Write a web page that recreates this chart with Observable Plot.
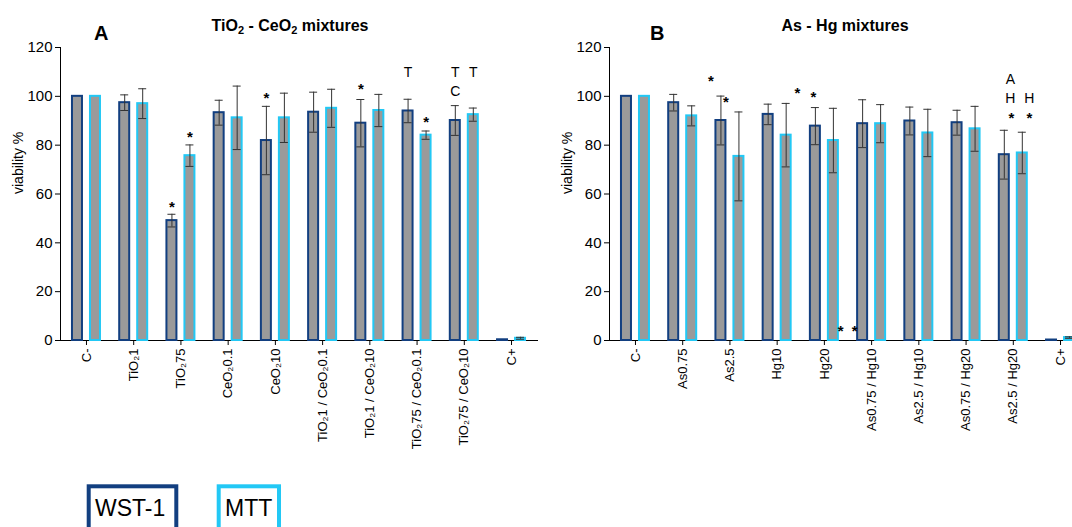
<!DOCTYPE html>
<html>
<head>
<meta charset="utf-8">
<script src="https://cdn.jsdelivr.net/npm/d3@7"></script>
<script src="https://cdn.jsdelivr.net/npm/@observablehq/plot@0.6"></script>
<style>
  html, body { margin: 0; padding: 0; background: #fff; }
  body { font-family: "Liberation Sans", Arial, Helvetica, sans-serif; }
  #wrap { position: relative; width: 1072px; height: 527px; overflow: hidden; background: #fff; }
  .panel { position: absolute; top: 0; }
  .panel svg { max-width: none !important; }
  .panel svg g[aria-label^="y-axis"] text { font-size: 15px; }
  #overlay { position: absolute; left: 0; top: 0; pointer-events: none; }
</style>
</head>
<body>
<div id="wrap">
  <div id="panelA" class="panel" style="left:0px;width:545px"></div>
  <div id="panelB" class="panel" style="left:540px;width:560px"></div>
  <svg id="overlay" width="1072" height="527" font-family="Liberation Sans, Arial, sans-serif">
    <text x="94" y="40" font-size="20" font-weight="bold">A</text>
    <text x="290" y="31" font-size="16" font-weight="bold" text-anchor="middle">TiO<tspan font-size="11" dy="3">2</tspan><tspan dy="-3"> - CeO</tspan><tspan font-size="11" dy="3">2</tspan><tspan dy="-3"> mixtures</tspan></text>
    <text x="650" y="40" font-size="20" font-weight="bold">B</text>
    <text x="845" y="31" font-size="16" font-weight="bold" text-anchor="middle">As - Hg mixtures</text>
    <rect x="88.7" y="486.3" width="87.6" height="50" fill="#fff" stroke="#123f80" stroke-width="4"></rect>
    <text x="95" y="516" font-size="23">WST-1</text>
    <rect x="218.7" y="486.3" width="60.3" height="50" fill="#fff" stroke="#22c8f5" stroke-width="4"></rect>
    <text x="225" y="516" font-size="23">MTT</text>
  </svg>
</div>
<script>
// ---------- Data ----------
const catsA = ["C-", "TiO₂1", "TiO₂75", "CeO₂0.1", "CeO₂10", "TiO₂1 / CeO₂0.1", "TiO₂1 / CeO₂10", "TiO₂75 / CeO₂0.1", "TiO₂75 / CeO₂10", "C+"];
const wstA    = [100, 97.4, 49.1, 93.3, 81.9, 93.5, 89.0, 94.0, 90.1, 0.3];
const wstErrA = [0,   3.2,  2.6,  5.1,  14.0, 8.2,  9.7,  4.8,  6.1,  0];
const mttA    = [100, 97.0, 75.7, 91.2, 91.2, 95.1, 94.2, 84.1, 92.5, 0.9];
const mttErrA = [0,   6.1,  4.4,  13.0, 10.1, 7.8,  6.6,  1.7,  2.7,  0.4];

const catsB = ["C-", "As0.75", "As2.5", "Hg10", "Hg20", "As0.75 / Hg10", "As2.5 / Hg10", "As0.75 / Hg20", "As2.5 / Hg20", "C+"];
const wstB    = [100, 97.4, 90.1, 92.6, 87.8, 88.8, 89.9, 89.2, 76.1, 0.2];
const wstErrB = [0,   3.4,  10.0, 4.2,  7.6,  9.8,  5.7,  5.1,  10.0, 0];
const mttB    = [100, 92.0, 75.4, 84.1, 81.9, 88.8, 85.0, 86.7, 76.8, 1.2];
const mttErrB = [0,   4.1,  18.2, 13.0, 13.2, 7.8,  9.7,  9.2,  8.5,  0.3];

const yTicks = [0, 20, 40, 60, 80, 100, 120];

// significance annotations: category, series, value level, label
const annCatA    = ["TiO₂75", "TiO₂75", "CeO₂10", "TiO₂1 / CeO₂10", "TiO₂75 / CeO₂0.1", "TiO₂75 / CeO₂0.1", "TiO₂75 / CeO₂10", "TiO₂75 / CeO₂10", "TiO₂75 / CeO₂10"];
const annSerA    = ["WST", "MTT", "WST", "WST", "WST", "MTT", "WST", "WST", "MTT"];
const annPosA    = [56.3, 85.1, 100.8, 104.5, 109.8, 91.2, 109.8, 102.2, 109.8];
const annLabelA  = ["*", "*", "*", "*", "T", "*", "T", "C", "T"];

const annCatB    = ["As2.5", "As2.5", "Hg20", "Hg20", "As0.75 / Hg10", "As0.75 / Hg10", "As2.5 / Hg20", "As2.5 / Hg20", "As2.5 / Hg20", "As2.5 / Hg20", "As2.5 / Hg20"];
const annSerB    = ["WST", "MTT", "WST", "MTT", "WST", "MTT", "WST", "WST", "WST", "MTT", "MTT"];
const annPosB    = [107.7, 99.2, 102.9, 101.1, 5.3, 5.3, 107.0, 99.2, 92.6, 99.2, 92.6];
const annLabelB  = ["*", "*", "*", "*", "*", "*", "A", "H", "*", "H", "*"];
// label nudges (styling, px) as drawn in the original figure
const annNudgeA = annLabelA.map(() => 0);
const annNudgeB = [-10, -13, -18, -20, -22, -26, 6, 6, 7, 7, 7];

// ---------- Styling ----------
const NAVY = "#123f80";
const CYAN = "#22c8f5";
const GRAY = "#9a9a9a";
const ERR  = "#333";
const FONT = "Liberation Sans, Arial, Helvetica, sans-serif";

function makePanel(cats, wst, wstErr, mtt, mttErr, annCat, annSer, annPos, annLabel, annNudge, opts) {
  const {width, marginLeft, marginRight} = opts;
  const height = 460, marginTop = 47, marginBottom = 120;
  const po = 0.05;
  const step = (width - marginLeft - marginRight) / (cats.length + 2 * po);
  const bw = step;
  const half = bw / 2;

  const rows = cats.map((c, i) => ({cat: c, wst: wst[i], wstErr: wstErr[i], mtt: mtt[i], mttErr: mttErr[i]}));
  const errW = rows.filter(d => d.wstErr > 0);
  const errM = rows.filter(d => d.mttErr > 0);

  const ann = annCat.map((c, i) => ({cat: c, ser: annSer[i], pos: annPos[i], label: annLabel[i],
    dx: (annSer[i] === "WST" ? -9 : 9) + annNudge[i]}));
  const annMarks = [];
  const groups = d3.group(ann, d => d.dx, d => d.label === "*");
  for (const [dx, inner] of groups) {
    for (const [isStar, arr] of inner) {
      annMarks.push(Plot.text(arr, {x: "cat", y: "pos", text: "label", dx, dy: isStar ? 4 : 0.5,
        fontSize: isStar ? 15 : 14, fontWeight: isStar ? "bold" : "normal", fill: "#000", lineAnchor: "middle"}));
    }
  }

  return Plot.plot({
    width, height, marginLeft, marginRight, marginTop, marginBottom,
    style: {fontFamily: FONT, fontSize: "13px", color: "#000", background: "transparent", overflow: "visible"},
    x: {domain: cats, paddingInner: 0, paddingOuter: po, round: false, label: null,
        tickRotate: -90, tickSize: 5, tickPadding: 3, line: true},
    y: {domain: [0, 120], ticks: yTicks.length - 1, label: null, tickSize: 5, tickPadding: 3, line: true},
    marks: [
      Plot.barY(rows, {x: "cat", y: "wst", fill: GRAY, stroke: NAVY, strokeWidth: 2,
        insetLeft: half - 14, insetRight: half + 4}),
      Plot.barY(rows, {x: "cat", y: "mtt", fill: GRAY, stroke: CYAN, strokeWidth: 2,
        insetLeft: half + 4, insetRight: half - 14}),
      Plot.ruleX(errW, {x: "cat", y1: d => d.wst - d.wstErr, y2: d => d.wst + d.wstErr, dx: -9, stroke: ERR, strokeWidth: 1}),
      Plot.tickY(errW, {x: "cat", y: d => d.wst + d.wstErr, insetLeft: half - 13, insetRight: half + 5, stroke: ERR, strokeWidth: 1}),
      Plot.tickY(errW, {x: "cat", y: d => d.wst - d.wstErr, insetLeft: half - 13, insetRight: half + 5, stroke: ERR, strokeWidth: 1}),
      Plot.ruleX(errM, {x: "cat", y1: d => d.mtt - d.mttErr, y2: d => d.mtt + d.mttErr, dx: 9, stroke: ERR, strokeWidth: 1}),
      Plot.tickY(errM, {x: "cat", y: d => d.mtt + d.mttErr, insetLeft: half + 5, insetRight: half - 13, stroke: ERR, strokeWidth: 1}),
      Plot.tickY(errM, {x: "cat", y: d => d.mtt - d.mttErr, insetLeft: half + 5, insetRight: half - 13, stroke: ERR, strokeWidth: 1}),
      ...annMarks,
      Plot.text(["viability %"], {frameAnchor: "left", dx: -42, rotate: -90, fontSize: 14, fill: "#000"})
    ]
  });
}

document.getElementById("panelA").appendChild(
  makePanel(catsA, wstA, wstErrA, mttA, mttErrA, annCatA, annSerA, annPosA, annLabelA, annNudgeA,
    {width: 545, marginLeft: 60, marginRight: 8}));
document.getElementById("panelB").appendChild(
  makePanel(catsB, wstB, wstErrB, mttB, mttErrB, annCatB, annSerB, annPosB, annLabelB, annNudgeB,
    {width: 560, marginLeft: 69, marginRight: 14}));
</script>
</body>
</html>
